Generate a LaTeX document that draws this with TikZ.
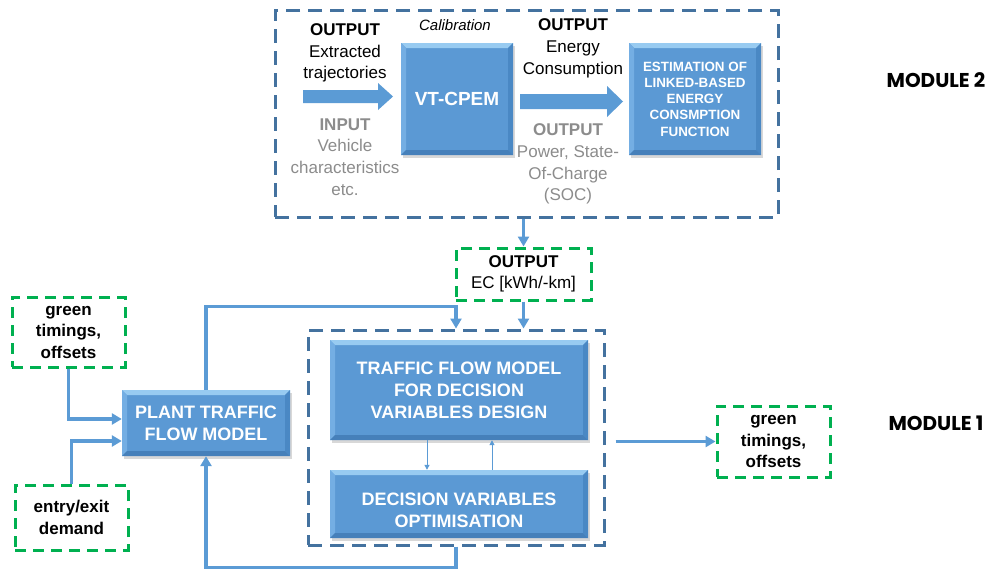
\documentclass[tikz,border=0pt]{standalone}
\usepackage{fontspec}
\setmainfont{Liberation Sans}
\newfontfamily\modfont{Poppins}
\usetikzlibrary{arrows.meta,shadows}

\definecolor{boxblue}{HTML}{5B99D4}
\definecolor{bevtop}{HTML}{98CBF1}
\definecolor{bevleft}{HTML}{74AEE3}
\definecolor{bevright}{HTML}{4A88C4}
\definecolor{bevbot}{HTML}{4680BA}
\definecolor{modline}{HTML}{44729F}
\definecolor{greenline}{HTML}{00B050}
\definecolor{connblue}{HTML}{5B9BD5}
\definecolor{graytxt}{HTML}{8C8C8C}

\def\bw{5}

\tikzset{
  bevbox/.style={
    fill=boxblue, inner sep=2pt, text=white, align=center,
    drop shadow={shadow xshift=2pt, shadow yshift=-3pt, opacity=0.25, fill=black!60},
    path picture={
      \path (path picture bounding box.north west) coordinate (pnw)
            (path picture bounding box.north east) coordinate (pne)
            (path picture bounding box.south east) coordinate (pse)
            (path picture bounding box.south west) coordinate (psw);
      \fill[bevtop] (pnw) -- (pne) -- ([shift={(-\bw,\bw)}]pne) -- ([shift={(\bw,\bw)}]pnw) -- cycle;
      \fill[bevleft] (pnw) -- ([shift={(\bw,\bw)}]pnw) -- ([shift={(\bw,-\bw)}]psw) -- (psw) -- cycle;
      \fill[bevright] (pne) -- ([shift={(-\bw,\bw)}]pne) -- ([shift={(-\bw,-\bw)}]pse) -- (pse) -- cycle;
      \fill[bevbot] (psw) -- ([shift={(\bw,-\bw)}]psw) -- ([shift={(-\bw,-\bw)}]pse) -- (pse) -- cycle;
    }
  },
  bigtxt/.style={font=\bfseries\fontsize{18}{22}\selectfont},
  modbox/.style={draw=modline, line width=3pt, dash pattern=on 14pt off 8pt, inner sep=0pt},
  grnbox/.style={draw=greenline, line width=3pt, dash pattern=on 11pt off 7pt,
    align=center, inner sep=0pt, font=\bfseries\fontsize{17}{21.5}\selectfont},
  txt/.style={align=center, inner sep=0pt, font=\fontsize{17}{21.7}\selectfont},
  conn/.style={draw=connblue, line width=3.2pt, -{Triangle[width=11pt,length=10pt]}},
  thinconn/.style={draw=connblue, line width=1pt, -{Triangle[width=5pt,length=5pt]}},
  modlabel/.style={font=\modfont\bfseries\fontsize{20}{22}\selectfont, inner sep=0pt}
}

\begin{document}
\begin{tikzpicture}[x=1pt,y=-1pt]
\useasboundingbox (0,0) rectangle (988,571);
\fill[white] (0,0) rectangle (988,571);

% ---------- Module 2 ----------
\node[modbox, minimum width=503pt, minimum height=207pt] (mod2) at (526.5,113.5) {};

\node[bevbox, minimum width=112pt, minimum height=112pt, font=\bfseries\fontsize{19}{22}\selectfont] (vt) at (457,99) {VT-CPEM};
\node[bevbox, minimum width=132pt, minimum height=112pt,
      font=\bfseries\fontsize{13.4}{16.3}\selectfont] (est) at (695,99)
      {ESTIMATION OF\\LINKED-BASED\\ENERGY\\CONSMPTION\\FUNCTION};

% block arrows feeding and leaving VT-CPEM
\fill[connblue] (303,90) -- (378,90) -- (378,83) -- (393,96.5) -- (378,110) -- (378,103) -- (303,103) -- cycle;
\fill[connblue] (520,94) -- (607,94) -- (607,86) -- (623,101.5) -- (607,117) -- (607,109) -- (520,109) -- cycle;

\node[txt] (outA) at (345,53) {\textbf{OUTPUT}\\Extracted\\trajectories};
\node[txt, text=graytxt] (inA) at (345,157) {\textbf{INPUT}\\Vehicle\\characteristics\\etc.};
\node[txt, font=\itshape\fontsize{15}{18}\selectfont] (calib) at (455,25) {Calibration};
\node[txt] (outB) at (573,48.5) {\textbf{OUTPUT}\\Energy\\Consumption};
\node[txt, text=graytxt] (outC) at (568,164) {\textbf{OUTPUT}\\Power, State-\\Of-Charge\\(SOC)};

\node[modlabel] (m2lab) at (936,80) {MODULE 2};

% ---------- Energy consumption output ----------
\node[grnbox, minimum width=135pt, minimum height=52pt, font=\fontsize{17}{21.5}\selectfont] (ec) at (523.5,274)
     {\textbf{OUTPUT}\\EC [kWh/-km]};

% ---------- Module 1 ----------
\node[modbox, minimum width=296pt, minimum height=215pt] (mod1) at (456,437.5) {};

\node[bevbox, minimum width=258pt, minimum height=100pt, bigtxt] (tfm) at (459,390)
     {TRAFFIC FLOW MODEL\\FOR DECISION\\VARIABLES DESIGN};
\node[bevbox, minimum width=258pt, minimum height=68pt] (dvo) at (459,504) {};
\node[bigtxt, text=white, align=center, inner sep=0pt] (dvotxt) at ([yshift=-6pt]dvo.center)
     {DECISION VARIABLES\\OPTIMISATION};

\node[bevbox, minimum width=168pt, minimum height=66pt, bigtxt] (plant) at (206,423)
     {PLANT TRAFFIC\\FLOW MODEL};

\node[grnbox, minimum width=113pt, minimum height=70pt] (gtin) at (68.5,332) {green\\timings,\\offsets};
\node[grnbox, minimum width=113pt, minimum height=65pt] (demand) at (71.5,517.5) {entry/exit\\demand};
\node[grnbox, minimum width=113pt, minimum height=71pt] (gtout) at (773.5,441.5) {green\\timings,\\offsets};

\node[modlabel] (m1lab) at (936,423) {MODULE 1};

% ---------- Connectors ----------
\draw[conn] (ec.north |- mod2.south) -- (ec.north);
\draw[conn] (ec.south) -- (ec.south |- mod1.north);
\draw[conn] (plant.north) |- ([yshift=22pt]mod1.north) -- (mod1.north);
\draw[conn] (mod1.south) -- ++(0,21) -| (plant.south);
\draw[conn] (gtin.south) |- ([yshift=4pt]plant.west);
\draw[conn] (demand.north) |- ([yshift=-18pt]plant.west);
\draw[conn] ([xshift=10pt]mod1.east |- gtout.west) -- (gtout.west);
\draw[thinconn] ([xshift=-32pt]tfm.south) -- ([xshift=-32pt]dvo.north);
\draw[thinconn] ([xshift=33pt]dvo.north) -- ([xshift=33pt]tfm.south);

\end{tikzpicture}
\end{document}
